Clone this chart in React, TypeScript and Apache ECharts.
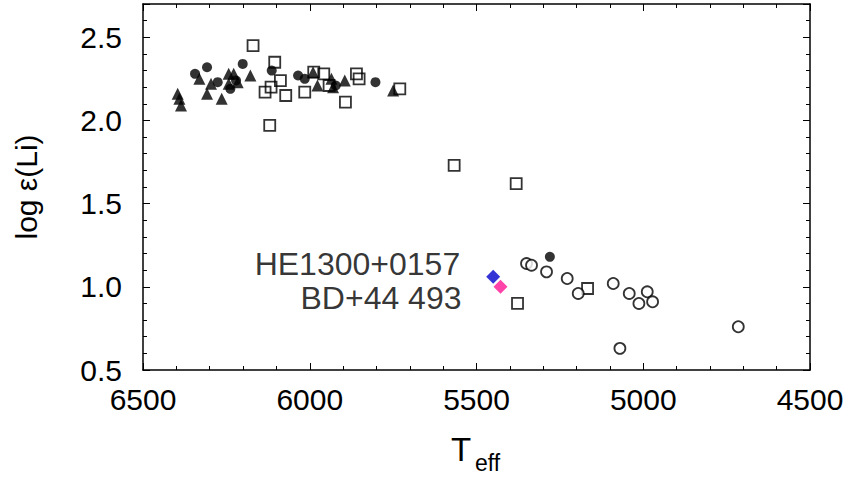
import React, { useEffect, useRef } from "react";
import * as echarts from "echarts";

const xTicks = [6500, 6000, 5500, 5000, 4500];
const yTicks = [0.5, 1.0, 1.5, 2.0, 2.5];

const openSquares: [number, number][] = [
  [6170, 2.45], [6105, 2.35], [6088, 2.24], [6116, 2.2], [6134, 2.17],
  [6072, 2.15], [6120, 1.97], [6015, 2.17], [5988, 2.29], [5958, 2.28],
  [5942, 2.21], [5893, 2.11], [5860, 2.28], [5852, 2.25], [5730, 2.19],
  [5567, 1.73], [5381, 1.62], [5377, 0.9], [5167, 0.99],
];

const filledCircles: [number, number][] = [
  [6308, 2.32], [6344, 2.28], [6276, 2.23], [6201, 2.34], [6114, 2.3],
  [6221, 2.24], [6238, 2.19], [6035, 2.27], [6015, 2.25], [5922, 2.21],
  [5803, 2.23], [5280, 1.18],
];

const filledTriangles: [number, number][] = [
  [6331, 2.25], [6296, 2.22], [6243, 2.28], [6228, 2.28], [6178, 2.27],
  [6216, 2.23], [6243, 2.22], [6308, 2.16], [6264, 2.13], [6396, 2.16],
  [6391, 2.13], [6386, 2.09], [5990, 2.29], [5977, 2.21], [5935, 2.25],
  [5895, 2.24], [5750, 2.18], [5930, 2.2],
];

const openCircles: [number, number][] = [
  [5350, 1.14], [5335, 1.13], [5290, 1.09], [5228, 1.05], [5195, 0.96],
  [5090, 1.02], [5042, 0.96], [5013, 0.9], [4988, 0.97], [4972, 0.91],
  [5070, 0.63], [4715, 0.76],
];

const starNames = ["HE1300+0157", "BD+44 493"];
const starTeff = [5450, 5428];
const starLi = [1.06, 1.0];
const starColors = ["#0000cc", "#ff1493"];

const FONT = "Liberation Sans, Arial, Helvetica, sans-serif";

export default function App() {
  const ref = useRef<HTMLDivElement>(null);
  useEffect(() => {
    document.body.style.margin = "0";
    if (!ref.current) return;
    const chart = echarts.init(ref.current, undefined, { renderer: "svg" });
    const axisCommon = {
      axisLine: { show: true, lineStyle: { color: "#000", width: 1.5 } },
      axisTick: { show: true, inside: true, length: 7, lineStyle: { color: "#000", width: 1 } },
      minorTick: { show: true, splitNumber: 5, length: 4, lineStyle: { color: "#000", width: 1 } },
      splitLine: { show: false },
      minorSplitLine: { show: false },
    };
    const option: any = {
      animation: false,
      backgroundColor: "#fff",
      grid: { left: 143, right: 46, top: 4, bottom: 111, containLabel: false },
      xAxis: [
        {
          type: "value",
          position: "bottom",
          inverse: true,
          min: xTicks[xTicks.length - 1],
          max: xTicks[0],
          interval: 500,
          ...axisCommon,
          axisLabel: {
            show: true,
            color: "#000",
            fontSize: 30,
            fontFamily: FONT,
            margin: 14,
            formatter: (v: number) => String(v),
          },
        },
        {
          type: "value",
          position: "top",
          inverse: true,
          min: 4500,
          max: 6500,
          interval: 500,
          ...axisCommon,
          axisLabel: { show: false },
        },
      ],
      yAxis: [
        {
          type: "value",
          position: "left",
          min: yTicks[0],
          max: 2.7,
          interval: 0.5,
          ...axisCommon,
          axisLabel: {
            show: true,
            color: "#000",
            fontSize: 30,
            fontFamily: FONT,
            margin: 21,
            formatter: (v: number) => (yTicks.some((t) => Math.abs(t - v) < 1e-6) ? v.toFixed(1) : ""),
          },
          name: "log ε(Li)",
          nameLocation: "middle",
          nameRotate: 90,
          nameGap: 102,
          nameTextStyle: { color: "#000", fontSize: 30, fontFamily: FONT },
        },
        {
          type: "value",
          position: "right",
          min: 0.5,
          max: 2.7,
          interval: 0.5,
          ...axisCommon,
          axisLabel: { show: false },
        },
      ],
      graphic: [
        {
          type: "text",
          left: 451,
          top: 433,
          style: { text: "T", font: `33px ${FONT}`, fill: "#000" },
        },
        {
          type: "text",
          left: 475,
          top: 451,
          style: { text: "eff", font: `23px ${FONT}`, fill: "#000" },
        },
      ],
      series: [
        {
          type: "scatter",
          name: "filledTriangles",
          data: filledTriangles,
          symbol: "triangle",
          symbolSize: 12,
          itemStyle: { color: "#000" },
        },
        {
          type: "scatter",
          name: "filledCircles",
          data: filledCircles,
          symbol: "circle",
          symbolSize: 10,
          itemStyle: { color: "#000" },
        },
        {
          type: "scatter",
          name: "openSquares",
          data: openSquares,
          symbol: "rect",
          symbolSize: 11,
          itemStyle: { color: "rgba(255,255,255,0)", borderColor: "#000", borderWidth: 1.8 },
        },
        {
          type: "scatter",
          name: "openCircles",
          data: openCircles,
          symbol: "circle",
          symbolSize: 11,
          itemStyle: { color: "#fff", borderColor: "#000", borderWidth: 1.8 },
        },
        {
          type: "scatter",
          name: "stars",
          symbol: "diamond",
          symbolSize: 14,
          data: starNames.map((n, i) => ({
            name: n,
            value: [starTeff[i], starLi[i]],
            itemStyle: { color: starColors[i] },
            label: {
              show: true,
              position: "left",
              distance: i === 0 ? 26 : 32,
              offset: [0, i === 0 ? -13 : 11],
              formatter: n,
              color: "#000",
              fontSize: 32,
              fontFamily: FONT,
            },
          })),
        },
      ],
    };
    chart.setOption(option);
    return () => chart.dispose();
  }, []);
  return <div ref={ref} style={{ width: 856, height: 481 }} />;
}
